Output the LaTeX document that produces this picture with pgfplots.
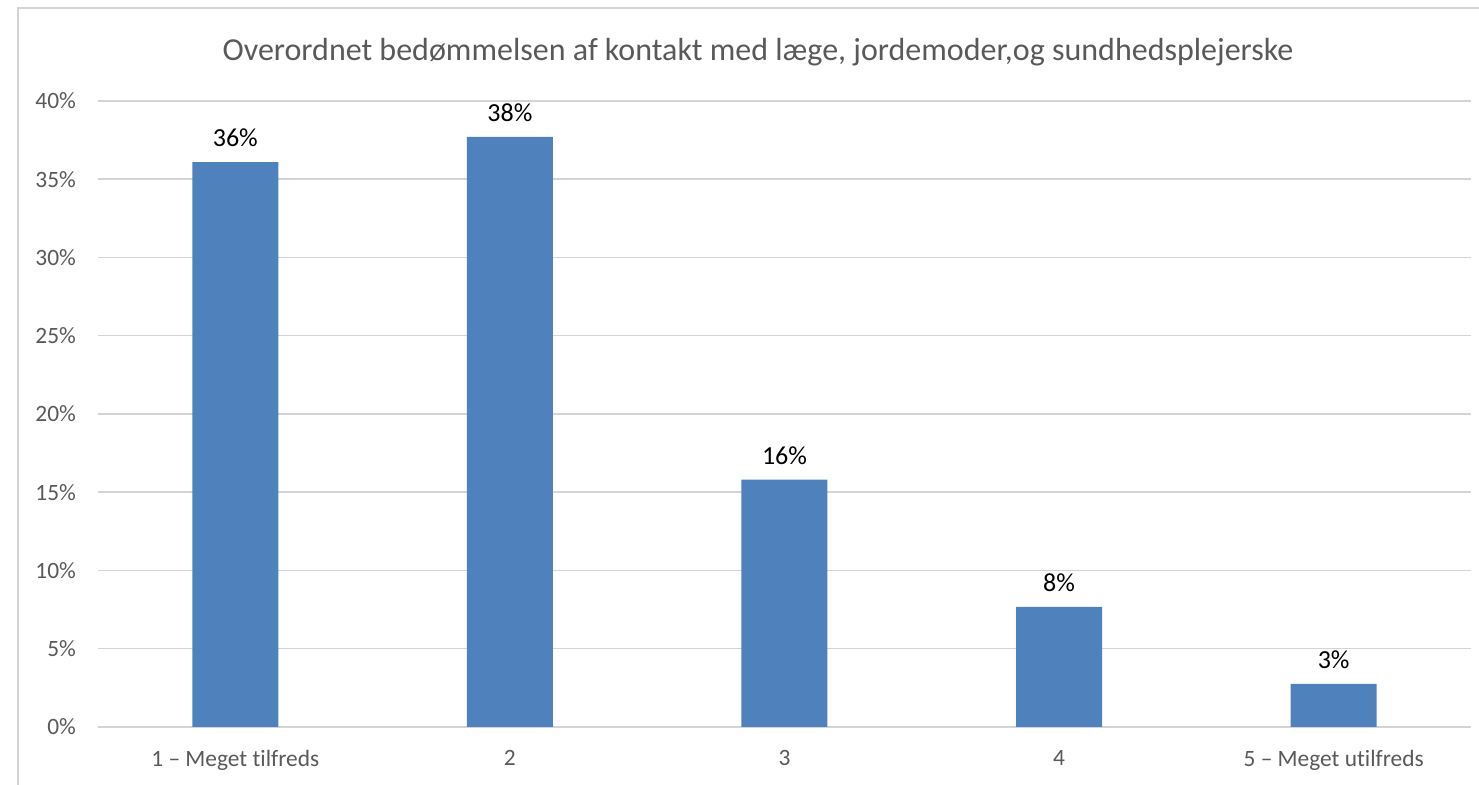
\documentclass[border=0pt]{standalone}
\usepackage{pgfplots}
\pgfplotsset{compat=1.18}
\usepackage{fontspec}
\setmainfont{Carlito}[Ligatures=NoCommon]
\definecolor{barblue}{HTML}{4F81BD}
\definecolor{gridgray}{HTML}{D4D4D4}
\definecolor{textgray}{HTML}{595959}
\begin{document}
\begin{tikzpicture}
\useasboundingbox (0,0) rectangle (739.5pt,392.5pt);
\draw[gridgray, line width=0.8pt] (9pt,0) -- (9pt,388.5pt) -- (739.5pt,388.5pt);
\node[textgray, font=\fontsize{16}{19}\selectfont] at (379pt,366.5pt) {Overordnet bedømmelsen af kontakt med læge, jordemoder,og sundhedsplejerske};
\begin{axis}[
  at={(49pt,29pt)}, anchor=south west,
  scale only axis, width=686.5pt, height=313pt,
  xmin=-0.5, xmax=4.5, ymin=0, ymax=40,
  ybar, bar width=43pt,
  axis line style={draw=none},
  tick style={draw=none},
  ymajorgrids, major grid style={gridgray, line width=0.75pt},
  ytick={0,5,...,40},
  yticklabel={\pgfmathprintnumber{\tick}\%},
  yticklabel style={font=\fontsize{11.7}{13}\selectfont, text=textgray, xshift=-7.5pt},
  /pgf/number format/assume math mode=true,
  xtick=data,
  xticklabels={1 – Meget tilfreds, 2, 3, 4, 5 – Meget utilfreds},
  xticklabel style={font=\fontsize{11.7}{13}\selectfont, text=textgray, yshift=-4pt},
  nodes near coords={\pgfmathprintnumber[fixed,precision=0]{\pgfplotspointmeta}\%},
  nodes near coords style={font=\fontsize{13}{15}\selectfont, text=black, yshift=4pt, /pgf/number format/assume math mode=true},
]
\addplot[fill=barblue, draw=none] coordinates {(0,36.1) (1,37.7) (2,15.8) (3,7.67) (4,2.75)};
\end{axis}
\end{tikzpicture}
\end{document}
